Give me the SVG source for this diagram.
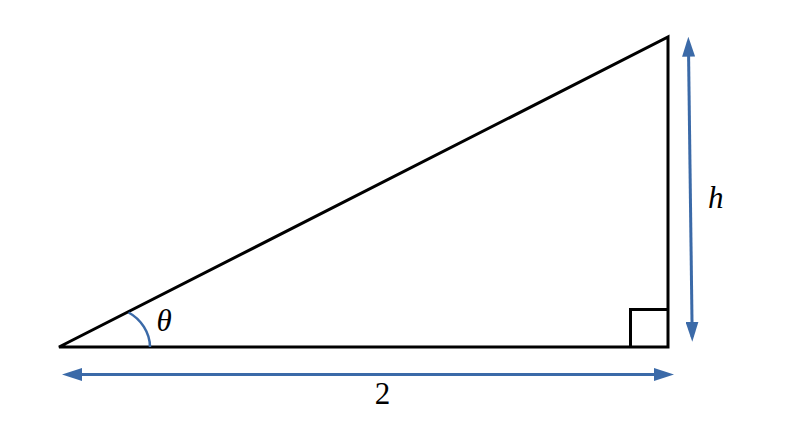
<svg xmlns="http://www.w3.org/2000/svg" width="800" height="448" viewBox="0 0 800 448">
  <style>
    .edge { stroke: #000; stroke-width: 3; fill: none; stroke-linejoin: miter; }
    .dim { stroke: #3B6AA8; stroke-width: 3; fill: none; }
    .lbl { font-family: "Liberation Serif", "DejaVu Serif", serif; font-size: 31px; fill: #000; }
    .it { font-style: italic; }
  </style>
  <defs>
    <marker id="ah" viewBox="0 0 20 13" refX="15" refY="6.5" markerWidth="20" markerHeight="13" markerUnits="userSpaceOnUse" orient="auto-start-reverse">
      <path d="M0,0 L20,6.5 L0,13 z" fill="#3B6AA8"/>
    </marker>
  </defs>
  <rect width="800" height="448" fill="#fff"/>
  <g id="triangle">
    <path class="edge" d="M59,347 L668,347 L668,37 Z"/>
    <path class="edge" d="M630.5,347 L630.5,309.5 L668,309.5"/>
  </g>
  <g id="angle">
    <path d="M150,347 C150,333 141,319 128.5,312.5" stroke="#3B6AA8" stroke-width="2.5" fill="none"/>
    <text class="lbl it" x="156.5" y="330.5">θ</text>
  </g>
  <g id="connectors">
    <line class="dim" x1="67" y1="374.5" x2="669" y2="374.5" marker-start="url(#ah)" marker-end="url(#ah)"/>
    <line class="dim" x1="688.4" y1="41.7" x2="692.2" y2="336.7" marker-start="url(#ah)" marker-end="url(#ah)"/>
  </g>
  <g id="label-h">
    <text class="lbl it" x="708" y="208">h</text>
  </g>
  <g id="label-2">
    <text class="lbl" x="382.5" y="404" text-anchor="middle">2</text>
  </g>
</svg>
